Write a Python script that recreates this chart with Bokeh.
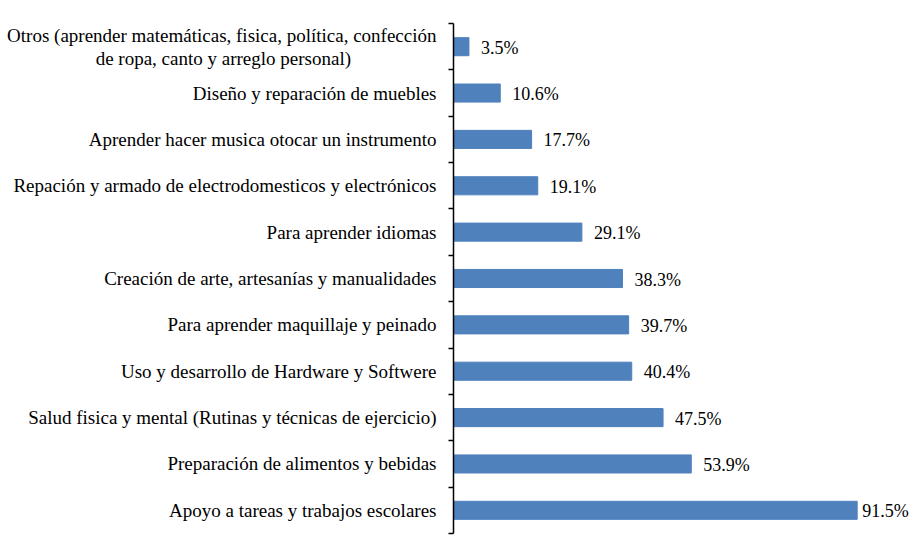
from bokeh.plotting import figure
from bokeh.models import ColumnDataSource, Range1d, FixedTicker, LabelSet
from bokeh.core.properties import value
from bokeh.embed import file_html
from bokeh.resources import INLINE

categories = [
    "Apoyo a tareas y trabajos escolares",
    "Preparación de alimentos y bebidas",
    "Salud fisica y mental (Rutinas y técnicas de ejercicio)",
    "Uso y desarrollo de Hardware y Softwere",
    "Para aprender maquillaje y peinado",
    "Creación de arte, artesanías y manualidades",
    "Para aprender idiomas",
    "Repación y armado de electrodomesticos y electrónicos",
    "Aprender hacer musica otocar un instrumento",
    "Diseño y reparación de muebles",
    "Otros (aprender matemáticas, fisica, política, confección\nde ropa, canto y arreglo personal)",
]
values = [91.5, 53.9, 47.5, 40.4, 39.7, 38.3, 29.1, 19.1, 17.7, 10.6, 3.5]
value_labels = [f"{v:.1f}%" for v in values]

FONT = "Liberation Serif"
n = len(categories)
idx = list(range(n))
offsets = [5 if v == max(values) else 12 for v in values]


def centered(label):
    # centre the lines of a multi-line label by padding shorter lines
    lines = label.split("\n")
    if len(lines) == 1:
        return label
    longest = max(len(l) for l in lines)
    out = []
    for l in lines:
        pad = int(round((longest - len(l)) * 0.5 * 1.57))
        out.append(l + "\u00a0" * pad)
    return "\n".join(out)


src = ColumnDataSource(dict(y=idx, v=values, lab=value_labels, off=offsets))

p = figure(width=918, height=555, output_backend="svg", toolbar_location=None,
           x_range=Range1d(0, 105.4), y_range=Range1d(-0.5, n - 0.5),
           min_border_left=453, min_border_right=0, min_border_top=23, min_border_bottom=22)

p.hbar(y="y", left=0, right="v", height=0.39, source=src, color="#4F81BD")

labels = LabelSet(x="v", y="y", text="lab", x_offset="off", y_offset=-1, source=src,
                  text_font=value(FONT), text_font_size="18px", text_baseline="middle",
                  text_color="black")
p.add_layout(labels)

p.xaxis.visible = False
p.xgrid.visible = False
p.ygrid.visible = False
p.outline_line_color = None

ax = p.yaxis[0]
ax.ticker = FixedTicker(ticks=idx, minor_ticks=[i - 0.5 for i in range(n + 1)])
ax.major_label_overrides = {i: centered(c) for i, c in enumerate(categories)}
ax.major_tick_out = 0
ax.major_tick_in = 0
ax.minor_tick_out = 5
ax.minor_tick_in = 0
ax.minor_tick_line_color = "black"
ax.minor_tick_line_width = 1.5
ax.axis_line_color = "black"
ax.axis_line_width = 1.5
ax.major_label_standoff = 12
ax.major_label_text_font = FONT
ax.major_label_text_font_size = "19px"
ax.major_label_text_line_height = 1.08
ax.major_label_text_color = "black"

open("out.html", "w").write(file_html(p, INLINE))
